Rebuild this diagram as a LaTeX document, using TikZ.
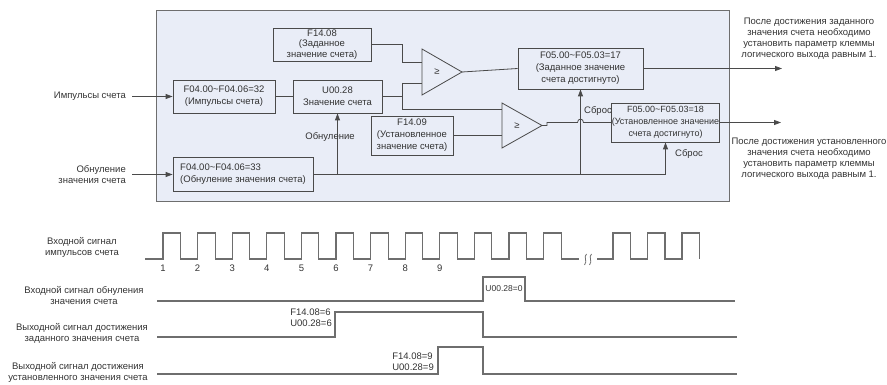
\documentclass[tikz,border=0pt]{standalone}
\usepackage{fontspec}
\setmainfont{Liberation Sans}
\usetikzlibrary{arrows.meta, positioning}
\definecolor{panelfill}{HTML}{E9EDF7}
\definecolor{linegray}{HTML}{4A4A4A}
\definecolor{wavegray}{HTML}{6E6E6E}
\definecolor{textgray}{HTML}{333333}

\begin{document}
\begin{tikzpicture}[
    x=1pt, y=-1pt,
    font=\fontsize{9.5}{11}\selectfont,
    >={Triangle[length=7pt,width=5pt]},
    % block styles
    regbox/.style={
        rectangle,
        draw=linegray,
        fill=panelfill,
        line width=0.8pt,
        inner sep=0pt,
        align=center,
        text=textgray,
        font=\fontsize{9.5}{12}\selectfont
    },
    panel/.style={
        rectangle,
        draw=wavegray,
        fill=panelfill,
        line width=1pt,
        inner sep=0pt
    },
    cmp/.style={
        draw=linegray,
        fill=panelfill,
        line width=0.8pt
    },
    wire/.style={
        draw=linegray,
        line width=0.8pt
    },
    flow/.style={
        wire,
        ->
    },
    note/.style={
        text=textgray,
        align=center,
        inner sep=0pt
    },
    wave/.style={
        draw=wavegray,
        line width=1.1pt
    }
]
    \useasboundingbox (0,0) rectangle (887,385);

    % ==========================================
    % 1. BLOCK DIAGRAM
    % ==========================================
    \node[panel, minimum width=573pt, minimum height=191pt] (panel) at (442.5,106.5) {};

    % registers
    \node[regbox, minimum width=98pt, minimum height=33pt, font=\fontsize{9.5}{10.8}\selectfont] (f1408) at (322,44.5) {F14.08\\(Заданное\\значение счета)};
    \node[regbox, minimum width=102pt, minimum height=33pt] (f32) at (224,96.5) {F04.00\textasciitilde F04.06=32\\(Импульсы счета)};
    \node[regbox, minimum width=89pt, minimum height=33pt] (u0028) at (337.5,96.5) {U00.28\\Значение счета};
    \node[regbox, minimum width=140pt, minimum height=34pt, align=left] (f33) at (243,174.5) {F04.00\textasciitilde F04.06=33\\(Обнуление значения счета)};
    \node[regbox, minimum width=82pt, minimum height=39pt] (f1409) at (412,135.5) {F14.09\\(Установленное\\значение счета)};
    \node[regbox, minimum width=125pt, minimum height=41pt] (f17) at (580.5,68.5) {F05.00\textasciitilde F05.03=17\\(Заданное значение\\счета достигнуто)};
    \node[regbox, minimum width=105pt, minimum height=39pt, font=\fontsize{9}{12}\selectfont] (f18) at (665.5,122.5) {F05.00\textasciitilde F05.03=18\\(Установленное значение\\счета достигнуто)};

    % comparators
    \draw[cmp] (422,49) -- (462,72) coordinate (cmpAout) -- (422,95) -- cycle;
    \coordinate (cmpAin1) at (422,62);
    \coordinate (cmpAin2) at (422,83);
    \node[note] (cmpAsym) at (437,72) {≥};

    \draw[cmp] (502,103) -- (542,125.5) coordinate (cmpBout) -- (502,148) -- cycle;
    \coordinate (cmpBin1) at (502,109);
    \coordinate (cmpBin2) at (502,135.5);
    \node[note] (cmpBsym) at (517,125.5) {≥};

    % outside labels
    \node[note, anchor=east] (lblpulse) at (126,96.5) {Импульсы счета};
    \node[note, anchor=east, align=right] (lblreset) at (126,174.5) {Обнуление\\значения счета};
    \node[note] (noteA) at (809,38.5) {После достижения заданного\\значения счета необходимо\\установить параметр клеммы\\логического выхода равным 1.};
    \node[note] (noteB) at (809,159) {После достижения установленного\\значения счета необходимо\\установить параметр клеммы\\логического выхода равным 1.};

    % ==========================================
    % CONNECTIONS
    % ==========================================
    \coordinate (tap) at (402,96.5);
    \coordinate (jU) at (u0028.south |- f33.east);
    \coordinate (jR) at (f17.south |- f33.east);
    \coordinate (hopL) at (577.5,122.5);
    \coordinate (hopR) at (583.5,122.5);
    \coordinate (outA) at (782,68.5);
    \coordinate (outB) at (781,122.5);

    \draw[flow] ([xshift=6pt]lblpulse.east) -- (f32.west);
    \draw[flow] ([xshift=6pt]lblreset.east) -- (f33.west);
    \draw[wire] (f32.east) -- (u0028.west);

    % counter value to both comparators
    \draw[wire] (u0028.east) -- (tap);
    \draw[wire] (tap |- cmpAin2) -- (tap |- cmpBin1);
    \draw[wire] (tap |- cmpAin2) -- (cmpAin2);
    \draw[wire] (tap |- cmpBin1) -- (cmpBin1);
    \draw[wire] (f1408.east) -| (tap |- cmpAin1) -- (cmpAin1);
    \draw[wire] (f1409.east) -- (cmpBin2);

    % comparator outputs
    \draw[wire] (cmpAout) -- (f17.west);
    \draw[wire] (cmpBout) -- ++(5,0) |- (hopL) .. controls (577.5,118) and (583.5,118) .. (hopR) -- (f18.west);
    \draw[flow] (f17.east) -- (outA);
    \draw[flow] (f18.east) -- (outB);

    % reset lines
    \draw[flow] (f33.east) -| (f18.south);
    \draw[flow] (jU) -- (u0028.south);
    \draw[flow] (jR) -- (f17.south);
    \node[note] (lblzero) at (330,137) {Обнуление};
    \node[note] (lblrstA) at (598,111) {Сброс};
    \node[note] (lblrstB) at (689,154) {Сброс};

    % ==========================================
    % 2. TIMING DIAGRAM
    % ==========================================
    \node[note] (sigpulse) at (82,247.5) {Входной сигнал\\импульсов счета};
    \node[note] (sigreset) at (84,296) {Входной сигнал обнуления\\значения счета};
    \node[note] (sigset) at (82,333.5) {Выходной сигнал достижения\\заданного значения счета};
    \node[note] (sigdes) at (78,372.5) {Выходной сигнал достижения\\установленного значения счета};

    % count pulses
    \draw[wave] (145,259) \foreach \k in {0,...,11} {
        -- ({163+34.6*\k},259) -- ++(0,-26) -- ++(17.5,0) -- ++(0,26)
    } -- (579,259);
    \draw[wave] (597,259) \foreach \k in {0,1,2} {
        -- ({613+34.5*\k},259) -- ++(0,-26) -- ++(17.5,0) -- ++(0,26)
    };
    \foreach \x in {585,590}
        \draw[wavegray, line width=0.8pt] (\x+1.5,254) .. controls (\x-2,257) and (\x+3,261) .. (\x-0.5,265);
    \foreach \k in {1,...,9}
        \node[note] (num\k) at ({163+34.6*(\k-1)},268) {\k};

    % reset input
    \draw[wave] (157,301) -- (483,301) -- (483,277) -- (525,277) -- (525,301) -- (735,301);
    \node[note, font=\fontsize{8.5}{10}\selectfont] (valzero) at (504,289) {U00.28=0};

    % set value reached
    \draw[wave] (157,337) -- (335,337) -- (335,312) -- (483,312) -- (483,337) -- (737,337);
    \node[note, anchor=east, align=left] (valsix) at (332,318) {F14.08=6\\U00.28=6};

    % designated value reached
    \draw[wave] (157,374) -- (438,374) -- (438,347) -- (483,347) -- (483,374) -- (737,374);
    \node[note, anchor=east, align=left] (valnine) at (434,362) {F14.08=9\\U00.28=9};

\end{tikzpicture}
\end{document}
